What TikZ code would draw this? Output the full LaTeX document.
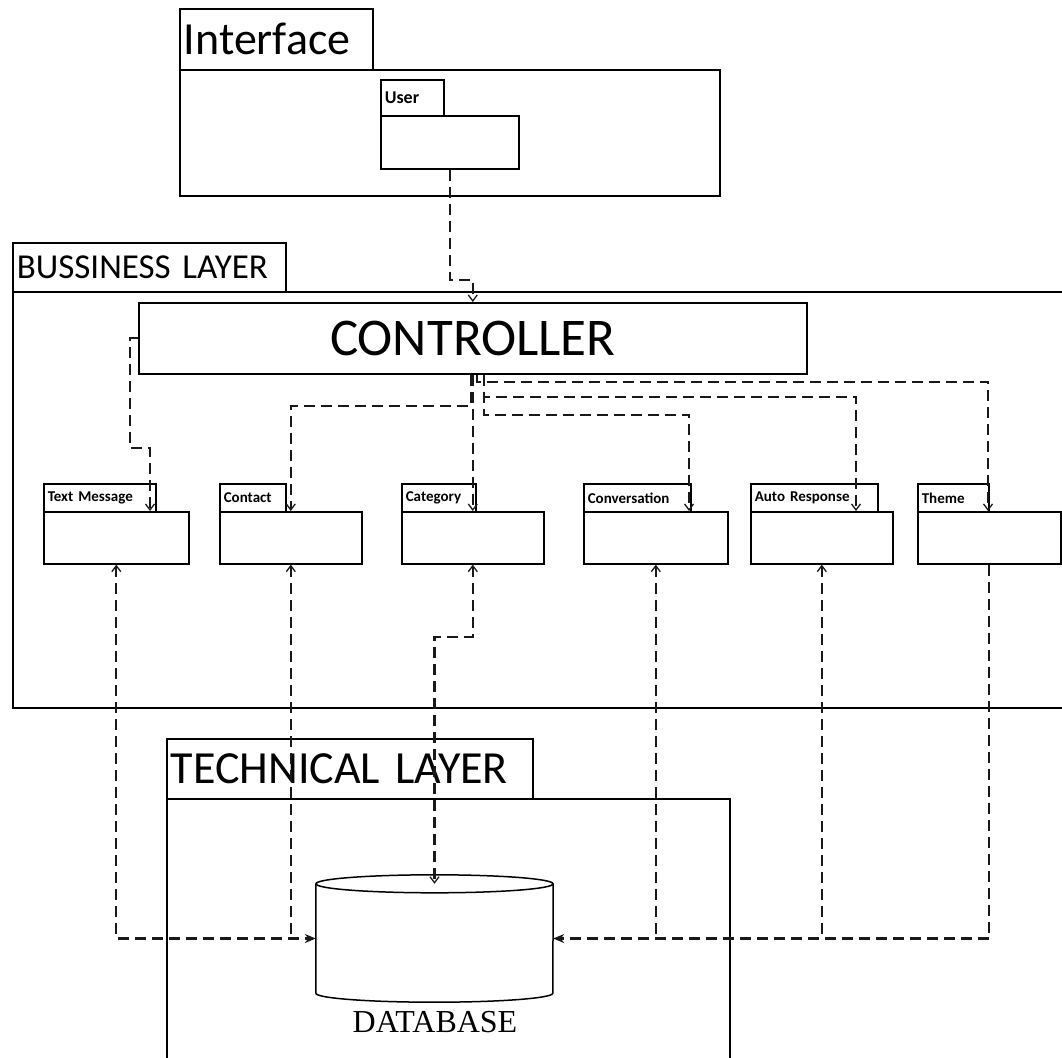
\documentclass[tikz,border=0pt]{standalone}
\usepackage{fontspec}
\setmainfont{Carlito}[WordSpace=0.7]
\newfontfamily\dbfont{Liberation Serif}
\usetikzlibrary{arrows.meta}

\begin{document}
\begin{tikzpicture}[x=1pt,y=-1pt,
  box/.style={draw, line width=1.6pt, anchor=north west, inner sep=0pt},
  tab/.style={box, inner xsep=4pt, inner ysep=0pt, align=left},
  pkglabel/.style={font=\bfseries\fontsize{15}{16}\selectfont},
  dep/.style={line width=2.2pt, draw=black!90, dash pattern=on 11pt off 6pt},
  open/.tip={Straight Barb[length=6pt,width=9pt,line width=1.3pt]},
  solid/.tip={Stealth[length=11pt,width=9pt]}]
\useasboundingbox (0,0) rectangle (1062,1057);

% Interface package
\node[tab, text width=185pt, minimum height=61pt, font=\fontsize{46}{48}\selectfont] (ifT) at (179,8) {Interface};
\node[box, minimum width=540pt, minimum height=126pt] (if) at (179,69) {};
\node[tab, text width=55pt, minimum height=36pt, font=\bfseries\fontsize{18}{19}\selectfont] (userT) at (380,79) {User};
\node[box, minimum width=138pt, minimum height=53pt] (user) at (380,115) {};

% Business layer
\node[tab, text width=265pt, minimum height=49pt, font=\fontsize{35}{38}\selectfont] (blT) at (12,242) {BUSSINESS LAYER};
\node[box, minimum width=1070pt, minimum height=416pt] (bl) at (12,291) {};
\node[box, minimum width=668pt, minimum height=71pt, font=\fontsize{53}{56}\selectfont] (ctrl) at (138,302) {CONTROLLER};

% Packages of the business layer
\node[tab, pkglabel, text width=104pt, minimum height=28pt] (tmT) at (43,483) {Text Message};
\node[box, minimum width=145pt, minimum height=52pt] (tm) at (43,511) {};
\node[tab, pkglabel, text width=58pt, minimum height=28pt] (conT) at (219,483) {Contact};
\node[box, minimum width=142pt, minimum height=52pt] (con) at (219,511) {};
\node[tab, pkglabel, text width=66pt, minimum height=28pt] (catT) at (401,483) {Category};
\node[box, minimum width=142pt, minimum height=52pt] (cat) at (401,511) {};
\node[tab, pkglabel, text width=99pt, minimum height=28pt] (cvT) at (583,483) {Conversation};
\node[box, minimum width=144pt, minimum height=52pt] (cv) at (583,511) {};
\node[tab, pkglabel, text width=119pt, minimum height=28pt] (arT) at (750,483) {Auto Response};
\node[box, minimum width=142pt, minimum height=52pt] (ar) at (750,511) {};
\node[tab, pkglabel, text width=63pt, minimum height=28pt] (thT) at (917,483) {Theme};
\node[box, minimum width=143pt, minimum height=52pt] (th) at (917,511) {};

% Technical layer
\node[tab, text width=358pt, minimum height=60pt, font=\fontsize{46}{50}\selectfont] (tlT) at (166,738) {TECHNICAL LAYER};
\node[box, minimum width=563pt, minimum height=280pt] (tl) at (166,798) {};

% Database cylinder
\node[minimum width=237pt, minimum height=109pt, inner sep=0pt] (db) at (434.5,938.5) {};
\draw[line width=1.5pt] (db.north west) -- (db.south west)
  arc[start angle=180, end angle=360, x radius=118.5pt, y radius=9pt] -- (db.north east);
\draw[line width=1.5pt] (db.north) ellipse [x radius=118.5pt, y radius=9pt];
\node[font=\dbfont\fontsize{32}{34}\selectfont] (dbl) at (435,1022) {DATABASE};

% Dependencies from the interface and the controller
\draw[dep,-open] (user.south) -- ++(0,110) -| (ctrl.north);
\draw[dep,-open] (ctrl.west) -- ++(-8,0) -- ++(0,110) -| ([xshift=107pt]tm.north west);
\draw[dep,-open] ([xshift=-2pt]ctrl.south) -- ++(0,31) -| (con.north);
\draw[dep,-open] (ctrl.south) -- (cat.north);
\draw[dep,-open] ([xshift=11pt]ctrl.south) -- ++(0,40) -| ([xshift=106pt]cv.north west);
\draw[dep,-open] ([xshift=11pt]ctrl.south) -- ++(0,22) -| ([xshift=106pt]ar.north west);
\draw[dep,-open] ([xshift=4pt]ctrl.south) -- ++(0,7) -| ([xshift=71pt]th.north west);

% Dependencies between the packages and the database
\draw[dep,open-solid] (tm.south) |- (db.west);
\draw[dep,open-] (con.south) -- (con.south |- db.west);
\draw[dep,open-open] (cat.south) -- ++(0,72) -| (db.north);
\draw[dep,-solid] (th.south) |- (db.east);
\draw[dep,open-] (cv.south) -- (cv.south |- db.east);
\draw[dep,open-] (ar.south) -- (ar.south |- db.east);
\end{tikzpicture}
\end{document}
